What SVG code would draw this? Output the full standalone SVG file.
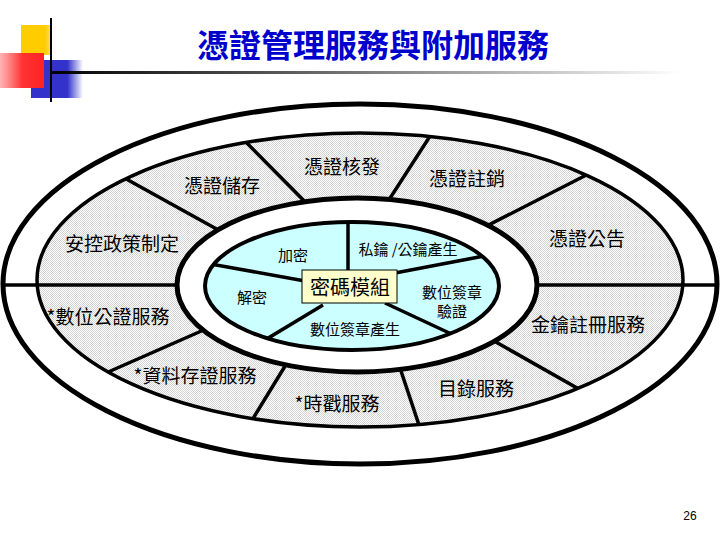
<svg xmlns="http://www.w3.org/2000/svg" width="720" height="540" viewBox="0 0 720 540">
<defs>
<pattern id="dots" width="2" height="2" patternUnits="userSpaceOnUse">
<rect width="2" height="2" fill="#ffffff"/>
<rect width="1" height="1" fill="#d2d2d2"/>
<rect x="1" y="1" width="1" height="1" fill="#d2d2d2"/>
</pattern>
<linearGradient id="hline" x1="0" y1="0" x2="1" y2="0">
<stop offset="0" stop-color="#000"/>
<stop offset="0.35" stop-color="#555"/>
<stop offset="1" stop-color="#fff"/>
</linearGradient>
<linearGradient id="gBlue" x1="0" y1="0" x2="1" y2="0">
<stop offset="0" stop-color="#3333cc"/>
<stop offset="0.7" stop-color="#3333cc"/>
<stop offset="1" stop-color="#3333cc" stop-opacity="0"/>
</linearGradient>
<linearGradient id="gRed" x1="0" y1="0" x2="1" y2="0">
<stop offset="0" stop-color="#ff6666" stop-opacity="0.5"/>
<stop offset="0.5" stop-color="#ff3333"/>
<stop offset="1" stop-color="#ff2222"/>
</linearGradient>
<linearGradient id="gYel" x1="0" y1="0" x2="1" y2="0">
<stop offset="0" stop-color="#ffcc00"/>
<stop offset="0.8" stop-color="#ffcc00"/>
<stop offset="1" stop-color="#ffe066"/>
</linearGradient>
<clipPath id="clipBand"><ellipse cx="360" cy="280" rx="323" ry="147"/></clipPath>
<clipPath id="clipBlue"><ellipse cx="352" cy="286" rx="147" ry="64"/></clipPath>
<style>
.t{font-family:"Noto Sans CJK TC","Liberation Sans",sans-serif;fill:#000;text-anchor:middle}
.o{font-size:19px}
.i{font-size:15px}
.ln{stroke:#000;stroke-width:3.5;fill:none;stroke-linecap:butt}
</style>
</defs>
<rect width="720" height="540" fill="#fff"/>
<g id="decoration">
<rect x="31" y="60" width="52" height="38" fill="url(#gBlue)"/>
<rect x="21" y="25" width="30" height="30" fill="url(#gYel)"/>
<rect x="0" y="53" width="44" height="35" fill="url(#gRed)"/>
<rect x="51" y="71" width="631" height="3" fill="url(#hline)"/>
<line x1="51" y1="18" x2="51" y2="102" stroke="#000" stroke-width="2"/>
</g>
<text id="title" x="373" y="57" style="font-family:'Noto Sans CJK TC',sans-serif;font-size:32px;font-weight:bold;fill:#0000cc;text-anchor:middle">憑證管理服務與附加服務</text>
<g id="outer-ring">
<ellipse cx="360" cy="284" rx="357" ry="180" fill="#fff" stroke="#000" stroke-width="5"/>
<ellipse cx="360" cy="280" rx="323" ry="147" fill="url(#dots)" stroke="#000" stroke-width="3.5"/>
</g>
<g id="connectors">
<line class="ln" x1="3" y1="285" x2="180" y2="285"/>
<line class="ln" x1="535" y1="285" x2="717" y2="285"/>
<g clip-path="url(#clipBand)">
<line class="ln" x1="110" y1="170" x2="240" y2="242"/>
<line class="ln" x1="240" y1="136" x2="320" y2="217"/>
<line class="ln" x1="434" y1="130" x2="385" y2="206"/>
<line class="ln" x1="600" y1="168" x2="475" y2="232"/>
<line class="ln" x1="600" y1="401" x2="480" y2="333"/>
<line class="ln" x1="424" y1="440" x2="398" y2="362"/>
<line class="ln" x1="246" y1="430" x2="290" y2="358"/>
<line class="ln" x1="90" y1="380" x2="215" y2="325"/>
</g>
</g>
<g id="inner-ring">
<ellipse cx="357" cy="285" rx="180" ry="87" fill="#fff" stroke="#000" stroke-width="5"/>
<ellipse cx="352" cy="286" rx="147" ry="64" fill="#ccffff" stroke="#000" stroke-width="4"/>
</g>
<g id="inner-connectors" clip-path="url(#clipBlue)">
<line class="ln" x1="348" y1="215" x2="348" y2="275"/>
<line class="ln" x1="200" y1="262" x2="305" y2="281"/>
<line class="ln" x1="395" y1="273" x2="505" y2="252"/>
<line class="ln" x1="385" y1="303" x2="475" y2="345"/>
<line class="ln" x1="323" y1="305" x2="250" y2="349"/>
</g>
<g id="crypto-module">
<rect x="302" y="270" width="95" height="33" fill="#ffffcc" stroke="#000" stroke-width="1"/>
<text class="t" x="350" y="295" style="font-size:20px">密碼模組</text>
</g>
<g id="n-issue"><text class="t o" x="342" y="174">憑證核發</text></g>
<g id="n-store"><text class="t o" x="222" y="193">憑證儲存</text></g>
<g id="n-revoke"><text class="t o" x="467" y="186">憑證註銷</text></g>
<g id="n-policy"><text class="t o" x="122" y="251">安控政策制定</text></g>
<g id="n-publish"><text class="t o" x="587" y="246">憑證公告</text></g>
<g id="n-notary"><text class="t o" x="108" y="324">*數位公證服務</text></g>
<g id="n-keyreg"><text class="t o" x="588" y="332">金鑰註冊服務</text></g>
<g id="n-archive"><text class="t o" x="195" y="383">*資料存證服務</text></g>
<g id="n-dir"><text class="t o" x="476" y="396">目錄服務</text></g>
<g id="n-tsa"><text class="t o" x="337" y="411">*時戳服務</text></g>
<g id="n-enc"><text class="t i" x="293" y="261">加密</text></g>
<g id="n-dec"><text class="t i" x="252" y="303">解密</text></g>
<g id="n-keygen"><text class="t i" x="408" y="255">私鑰 /公鑰產生</text></g>
<g id="n-verify"><text class="t i" x="452" y="298">數位簽章</text><text class="t i" x="452" y="317">驗證</text></g>
<g id="n-sign"><text class="t i" x="355" y="335">數位簽章產生</text></g>
<text x="690" y="520" style="font-family:'Liberation Sans',sans-serif;font-size:12px;text-anchor:middle;fill:#000">26</text>
</svg>
